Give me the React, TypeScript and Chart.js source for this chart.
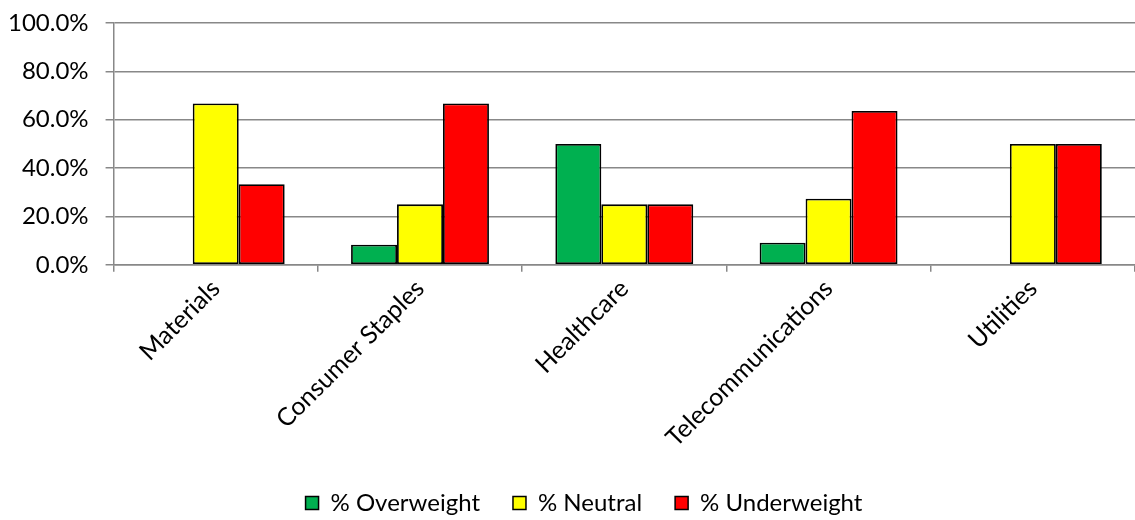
import React, { useEffect, useRef } from "react";
import { Chart, registerables } from "chart.js";

Chart.register(...registerables);

const categories = ["Materials", "Consumer Staples", "Healthcare", "Telecommunications", "Utilities"];
const overweight = [0, 8.3, 50.0, 9.1, 0];
const neutral = [66.7, 25.0, 25.0, 27.3, 50.0];
const underweight = [33.3, 66.7, 25.0, 63.6, 50.0];
const yTicks = [0, 20, 40, 60, 80, 100];

const FONT = "Lato, 'Open Sans', sans-serif";

const legendHeightPlugin = {
  id: "legendHeight",
  beforeLayout(chart: any) {
    const lg = chart.legend;
    if (lg && !lg._patched) {
      const orig = lg.fit.bind(lg);
      lg.fit = function () {
        orig();
        this.height = 63;
      };
      lg._patched = true;
    }
  },
  afterLayout(chart: any) {
    const lg = chart.legend;
    if (lg) {
      lg.left += 12;
      lg.right += 12;
      lg.top += 1;
      lg.bottom += 1;
    }
  },
};

export default function App() {
  const ref = useRef<HTMLCanvasElement>(null);
  useEffect(() => {
    if (!ref.current) return;
    const chart = new Chart(ref.current, {
      type: "bar",
      data: {
        labels: categories,
        datasets: [
          { label: "% Overweight", data: overweight, backgroundColor: "#00B050" },
          { label: "% Neutral", data: neutral, backgroundColor: "#FFFF00" },
          { label: "% Underweight", data: underweight, backgroundColor: "#FF0000" },
        ].map((d) => ({ ...d, borderColor: "#000", borderWidth: 1.8, borderSkipped: false, categoryPercentage: 0.675, barPercentage: 1 })),
      },
      plugins: [legendHeightPlugin],
      options: {
        animation: false,
        responsive: false,
        layout: { padding: { top: 23, right: 0, left: 9, bottom: 0 } },
        scales: {
          x: {
            offset: true,
            afterFit: (axis: any) => {
              axis.paddingLeft = 0;
              axis.paddingRight = 0;
              axis.height += 2;
            },
            grid: { display: true, drawOnChartArea: false, drawTicks: true, tickLength: 7, color: "#888", lineWidth: 1.5, offset: true },
            border: { display: true, color: "#888", width: 1.5 },
            ticks: { minRotation: 45, maxRotation: 45, color: "#000", font: { family: FONT, size: 25 }, padding: 2 },
          },
          y: {
            min: 0,
            max: 100,
            afterBuildTicks: (axis: any) => {
              axis.ticks = yTicks.map((v) => ({ value: v }));
            },
            afterFit: (axis: any) => {
              axis.width -= 18;
              axis.paddingTop = 0;
              axis.paddingBottom = 0;
            },
            grid: { color: "#888", lineWidth: 1.5, tickLength: 8 },
            border: { display: true, color: "#888", width: 1.5 },
            ticks: {
              color: "#000",
              font: { family: FONT, size: 24 },
              padding: 17,
              callback: (v: any) => Number(v).toFixed(1) + "%",
            },
          },
        },
        plugins: {
          legend: {
            position: "bottom",
            labels: {
              color: "#000",
              font: { family: FONT, size: 24 },
              boxWidth: 13,
              boxHeight: 13,
              padding: 33,
              generateLabels: (c: any) =>
                c.data.datasets.map((d: any, i: number) => ({
                  text: d.label,
                  fillStyle: d.backgroundColor,
                  strokeStyle: "#000",
                  lineWidth: 1.5,
                  fontColor: "#000",
                  hidden: false,
                  datasetIndex: i,
                })),
            },
          },
          tooltip: { enabled: false },
        },
      },
    });
    return () => chart.destroy();
  }, []);
  return (
    <div style={{ position: "absolute", left: 0, top: 0, width: 1135, height: 520, background: "#fff" }}>
      <canvas ref={ref} width={1135} height={520} style={{ width: 1135, height: 520 }} />
    </div>
  );
}
